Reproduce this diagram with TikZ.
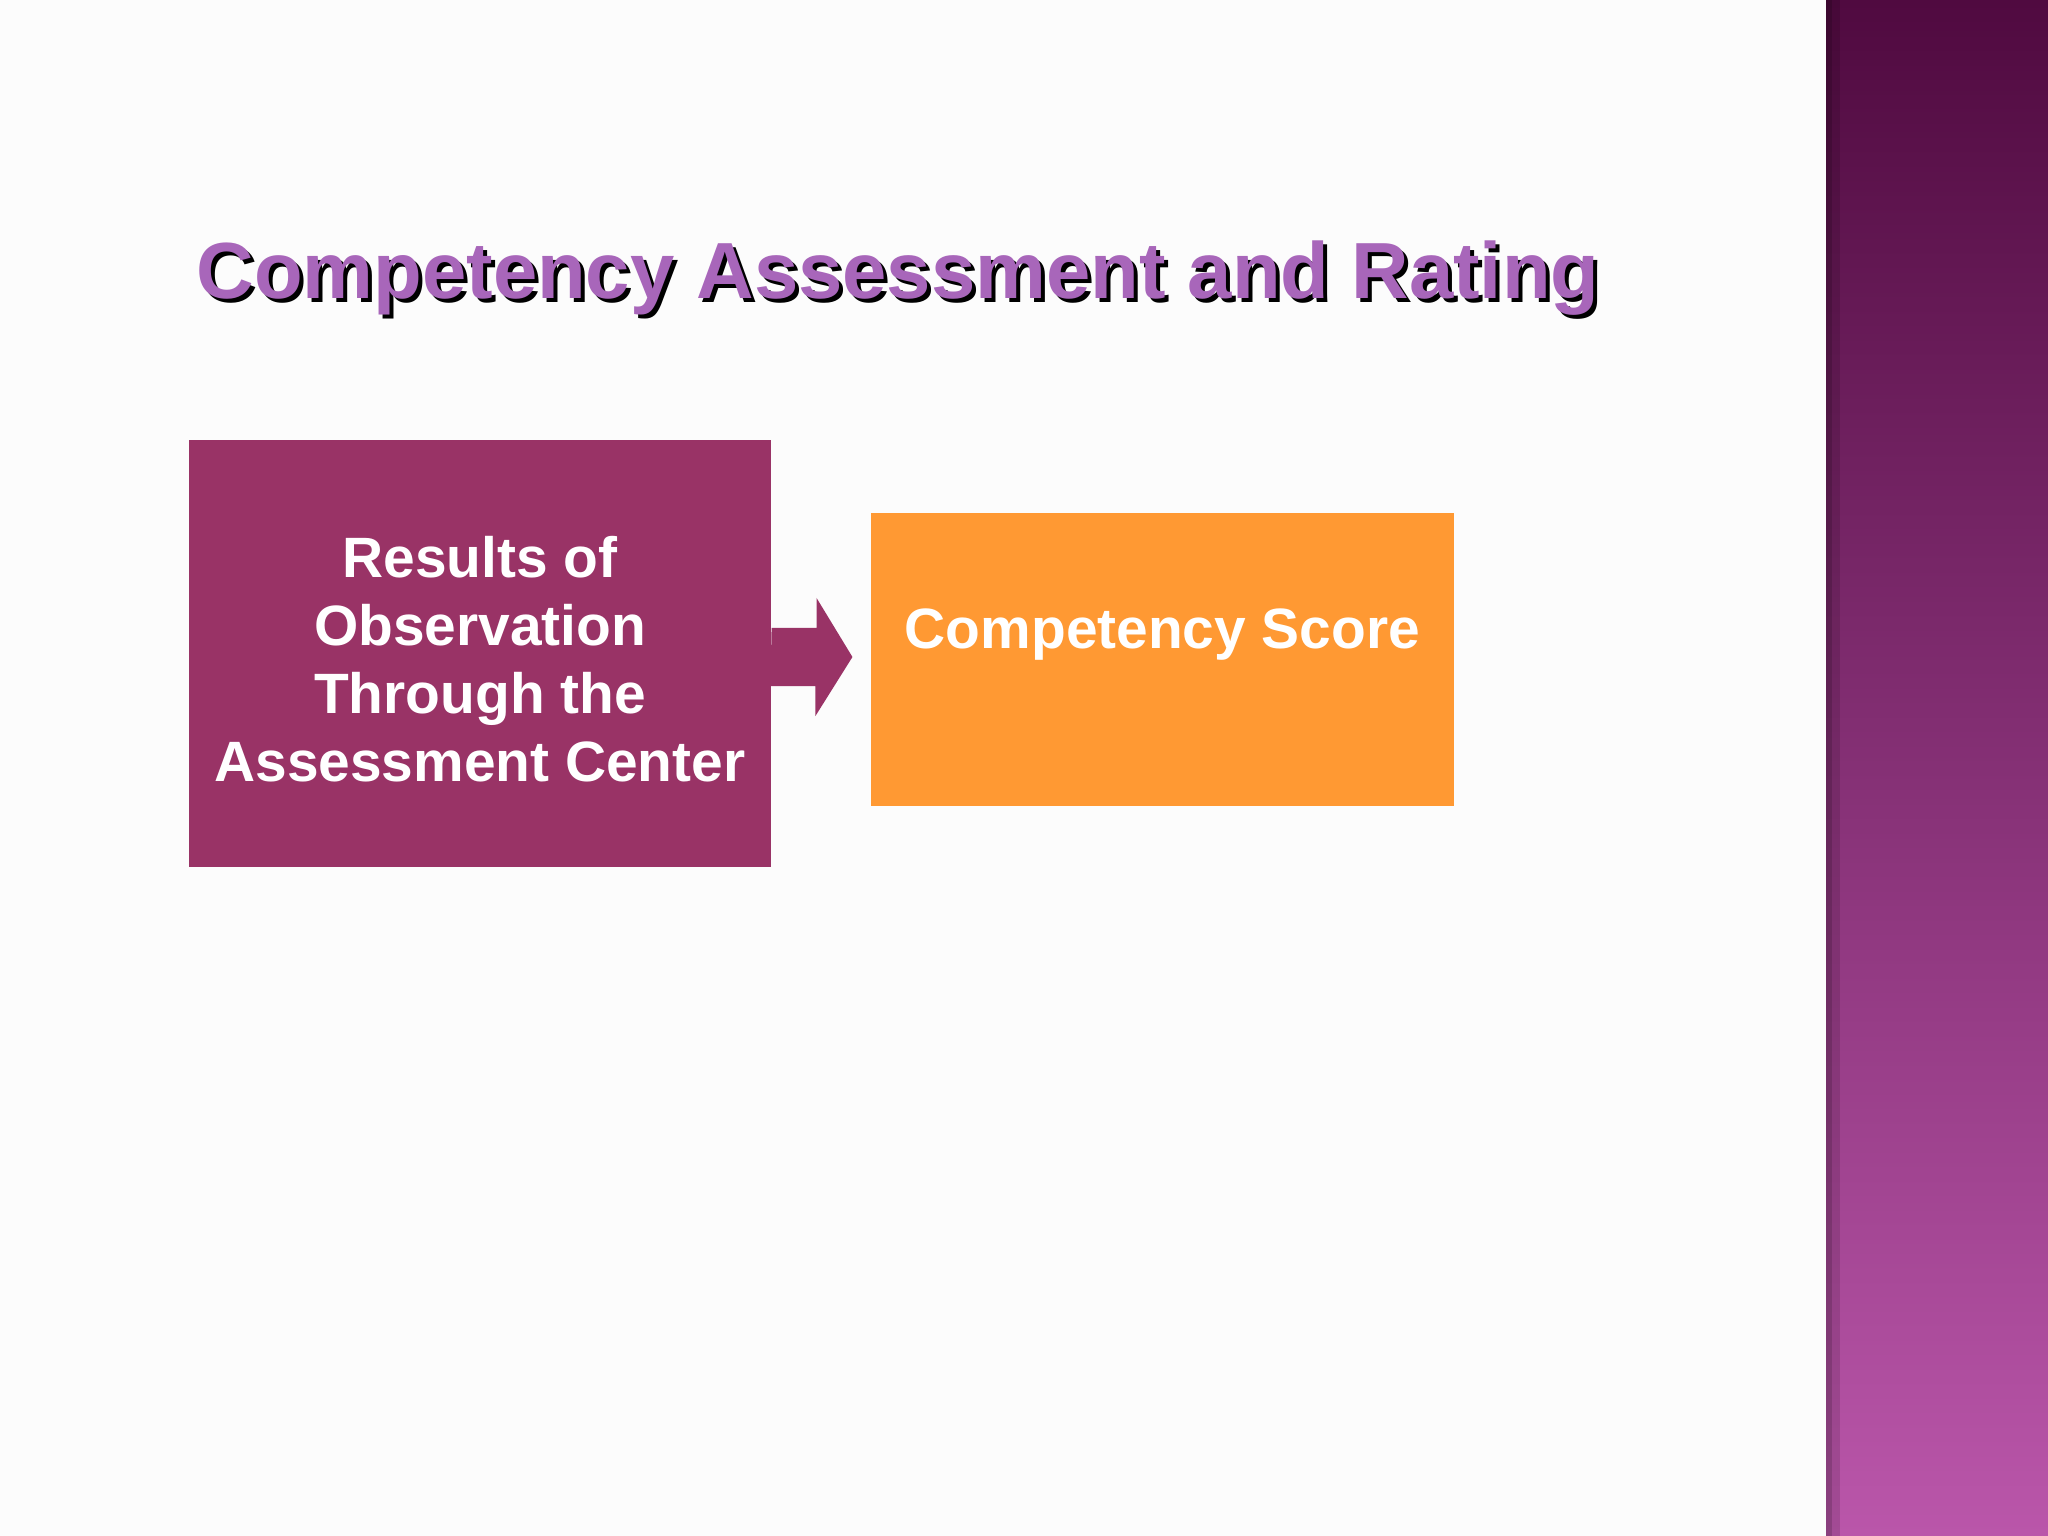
\documentclass[tikz,border=0pt]{standalone}
\usepackage{fontspec}
\setmainfont{Liberation Sans}
\usetikzlibrary{calc}

\definecolor{titlepurple}{RGB}{168,102,186}
\definecolor{boxpurple}{RGB}{153,51,102}
\definecolor{scoreorange}{RGB}{255,153,51}
\definecolor{bandtop}{RGB}{80,10,64}
\definecolor{bandmid}{RGB}{136,50,116}
\definecolor{bandbot}{RGB}{186,86,170}
\definecolor{slidebg}{RGB}{252,252,252}

% one pixel of the slide
\newcommand{\pxl}{0.35156pt}

\NewDocumentCommand{\slidetitle}{mm}{%
\node[titletext,black] (titleshadow) at ($(#1)+(4,4)$) {#2};%
\node[titletext,titlepurple] (title) at (#1) {#2};%
}

\begin{document}
\begin{tikzpicture}[x=\pxl,y=-\pxl,
    titletext/.style={anchor=base west,inner sep=0,font=\bfseries\fontsize{28}{33}\selectfont},
    box/.style={inner sep=0,text=white,align=center,font=\bfseries\fontsize{20}{23.9}\selectfont}]
        \useasboundingbox (0,0) rectangle (2048,1536);
        \fill[slidebg] (0,0) rectangle (2048,1536);

        % Side band.
        \shade[top color=bandtop,middle color=bandmid,bottom color=bandbot] (1826,0) rectangle (2048,1536);
        \fill[black,opacity=0.25] (1826,0) rectangle (1832,1536);
        \fill[black,opacity=0.12] (1832,0) rectangle (1840,1536);

        % Title.
        \coordinate (titlepos) at (196,299);
        \slidetitle{titlepos}{Competency Assessment and Rating}

        % Boxes.
        \node[box,fill=boxpurple,minimum width=582*\pxl,minimum height=427*\pxl] (results) at (480,653.5) {};
        \node[box] (resultslabel) at ($(results.center)+(0,6)$)
            {Results of\\Observation\\Through the\\Assessment Center};
        \node[box,fill=scoreorange,minimum width=583*\pxl,minimum height=293*\pxl] (score) at (1162.5,659.5) {};
        \node[box,anchor=base] (scorelabel) at ($(score.north)+(0,136)$) {Competency Score};

        % Block arrow.
        \coordinate (tip) at ($(score.west)+(-18,-2.5)$);
        \fill[boxpurple] ($(results.east |- tip)+(0,-29)$) -- ++(45,0) -- ++(0,-30) -- (tip)
            -- ++(-37,59) -- ++(0,-30) -- ++(-45,0) -- cycle;
    \end{tikzpicture}
\end{document}
